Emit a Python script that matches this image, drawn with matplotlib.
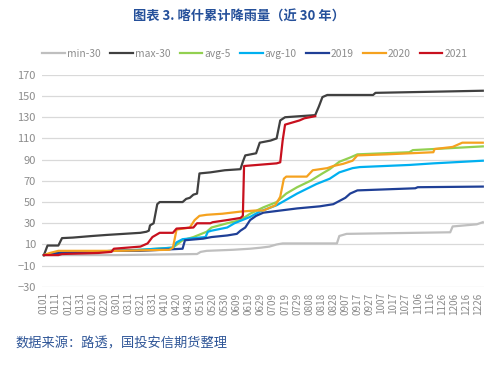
"""Kashgar cumulative rainfall chart (30-year range, averages, 2019-2021)."""

import matplotlib

matplotlib.use("Agg")

import matplotlib.pyplot as plt

# day index (0 = Jan 1) and cumulative rainfall (mm)
MIN30_DAY = [0, 60, 127, 130, 135, 157, 171, 180, 187, 193, 198, 243, 245, 251, 337, 339, 359, 364]
MIN30_VAL = [0, 0, 1, 3, 4, 5, 6, 7, 8, 10, 11, 11, 18, 20, 21.5, 27, 29, 31]

MAX30_DAY = [0, 1, 3, 12, 15, 24, 40, 52, 66, 80, 85, 87, 88, 91, 94, 96, 115, 118, 121, 124,
             127, 129, 138, 150, 163, 165, 167, 176, 179, 188, 193, 196, 200, 225, 228, 231,
             235, 273, 275, 320, 364]
MAX30_VAL = [0, 3, 9, 9, 16, 16.5, 18, 19, 20, 21, 22, 23, 28, 30, 48, 50, 50, 53, 54, 57,
             58, 77, 78, 80, 81, 88, 94, 96, 106, 108, 110, 127, 130, 132, 140, 149,
             151, 151, 153, 154, 155]

AVG5_DAY = [0, 10, 30, 60, 80, 107, 115, 124, 135, 139, 152, 163, 171, 182, 193, 201, 210,
            221, 231, 237, 245, 254, 260, 303, 306, 323, 364]
AVG5_VAL = [0, 2, 3, 4, 5, 7, 14, 17, 22, 26, 30, 33, 39, 45, 50, 58, 64,
            70, 77, 81, 88, 92, 95, 97, 99, 100, 102.5]

AVG10_DAY = [0, 10, 30, 60, 80, 107, 110, 115, 134, 136, 139, 152, 158, 171, 179, 193, 210,
             226, 237, 245, 256, 262, 303, 323, 364]
AVG10_VAL = [0, 2, 3, 4, 5, 7, 12, 15, 17, 22, 23, 26, 30, 36, 41, 47, 58,
             67, 72, 78, 82, 83, 85, 86.5, 89]

Y2019_DAY = [0, 10, 30, 60, 80, 115, 117, 132, 139, 152, 160, 163, 167, 171, 176, 182, 210,
             229, 240, 245, 250, 254, 260, 284, 308, 310, 364]
Y2019_VAL = [0, 2, 3, 4, 4, 6, 14, 15.5, 17, 18.5, 20, 23, 26, 33, 37, 40, 44,
             46, 48, 51, 54, 58, 61, 62, 63, 64, 64.6]

Y2020_DAY = [0, 5, 12, 60, 104, 107, 110, 121, 125, 129, 135, 148, 163, 175, 182, 192, 196,
             199, 201, 218, 223, 235, 240, 248, 256, 260, 284, 323, 324, 339, 347, 364]
Y2020_VAL = [0, 2, 4, 4, 5, 7, 24, 26, 33, 37, 38, 39, 41, 42, 42, 47, 55,
             72, 74, 74, 80, 82, 84, 86, 89, 94, 95, 97, 100, 102, 106, 106]

Y2021_DAY = [0, 12, 15, 45, 56, 58, 80, 86, 90, 96, 107, 110, 124, 127, 138, 140, 152, 163,
             165, 166, 193, 196, 198, 200, 212, 216, 225]
Y2021_VAL = [0, 0, 1, 2, 3, 6, 8, 11, 17, 21, 21, 25, 26, 30, 30, 31, 33, 35,
             37, 84, 86.5, 87.5, 108, 123, 127, 129, 131]

TICK_DAYS = list(range(0, 361, 10))
TICK_LABELS = ["0101", "0111", "0121", "0131", "0210", "0220", "0301", "0311", "0321",
               "0331", "0410", "0420", "0430", "0510", "0520", "0530", "0609", "0619",
               "0629", "0709", "0719", "0729", "0808", "0818", "0828", "0907", "0917",
               "0927", "1007", "1017", "1027", "1106", "1116", "1126", "1206", "1216",
               "1226"]
Y_TICKS = list(range(-30, 171, 20))

SERIES = [
    ("min-30", MIN30_DAY, MIN30_VAL, "#BFBFBF"),
    ("max-30", MAX30_DAY, MAX30_VAL, "#404040"),
    ("avg-5", AVG5_DAY, AVG5_VAL, "#92D050"),
    ("avg-10", AVG10_DAY, AVG10_VAL, "#00B0F0"),
    ("2019", Y2019_DAY, Y2019_VAL, "#1F3F96"),
    ("2020", Y2020_DAY, Y2020_VAL, "#F5A21F"),
    ("2021", Y2021_DAY, Y2021_VAL, "#C8101E"),
]

TITLE_BLUE = "#25509A"
TEXT_GREY = "#8C8C8C"


def main() -> None:
    plt.rcParams["font.family"] = ["Noto Sans CJK SC", "DejaVu Sans"]

    fig = plt.figure(figsize=(5.0, 3.65), dpi=100)
    ax = fig.add_axes([0.083, 0.214, 0.885, 0.581])

    for label, days, vals, color in SERIES:
        ax.plot(days, vals, color=color, linewidth=1.6, label=label)

    ax.set_xlim(-2, 365)
    ax.set_ylim(-30, 170)
    ax.set_yticks(Y_TICKS)
    ax.set_xticks(TICK_DAYS)
    ax.set_xticklabels(TICK_LABELS, rotation=90, fontsize=7.2, color=TEXT_GREY)
    ax.tick_params(axis="y", labelsize=8, colors=TEXT_GREY, length=0, pad=4)
    ax.tick_params(axis="x", length=0, pad=4)
    ax.grid(axis="y", color="#D9D9D9", linewidth=0.9)
    ax.set_axisbelow(True)
    for spine in ax.spines.values():
        spine.set_visible(False)

    fig.text(0.478, 0.955, "图表 3. 喀什累计降雨量（近 30 年）", ha="center", va="center",
             fontsize=9.5, fontweight="bold", color=TITLE_BLUE)
    fig.legend(loc="center", bbox_to_anchor=(0.51, 0.852), ncol=7, frameon=False,
               fontsize=7.4, handlelength=2.2, handletextpad=0.2, columnspacing=0.9,
               labelcolor=TEXT_GREY)
    fig.text(0.03, 0.058, "数据来源：路透，国投安信期货整理", ha="left", va="center",
             fontsize=9.5, color="#2E5597")

    fig.savefig("out.png", dpi=100)
    plt.close(fig)


if __name__ == "__main__":
    main()
